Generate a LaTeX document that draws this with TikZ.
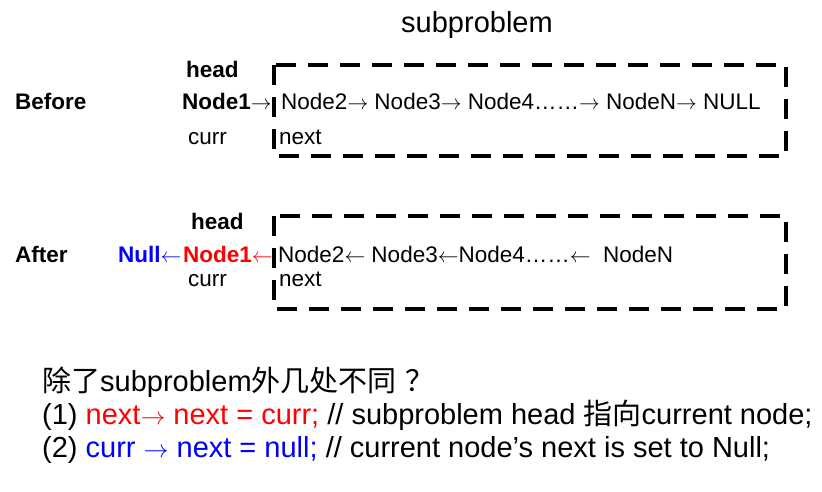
\documentclass[tikz,border=0pt]{standalone}
\usepackage{fontspec}
\setmainfont{Liberation Sans}
\newfontfamily\cjk{Noto Sans CJK SC}
\newcommand{\rarrow}{\ensuremath{\rightarrow}}
\newcommand{\larrow}{\ensuremath{\leftarrow}}
\begin{document}
\begin{tikzpicture}[x=1pt, y=-1pt, line join=round,
		txt/.style={anchor=base west, inner sep=0pt, font=\fontsize{22.5}{26}\selectfont},
		bold/.style={txt, font=\fontsize{22.5}{26}\selectfont\bfseries},
		note/.style={anchor=base west, inner sep=0pt, font=\fontsize{29}{33}\selectfont},
		subbox/.style={draw, line width=4pt, dash pattern=on 20pt off 12pt}]
	\useasboundingbox (0,0) rectangle (822,491);
	
	\node[note, anchor=base] (title) at (477,32) {subproblem};
	
	% before
	\draw[subbox] (274,65) rectangle (786,156);
	\node[bold] (before) at (15,109) {Before};
	\node[bold] (headA) at (186,77) {head};
	\node[bold] (nodeA) at (182,109) {Node1\rarrow};
	\node[txt] (listA) at (281,109) {Node2\rarrow{} Node3\rarrow{} Node4……\rarrow{} NodeN\rarrow{} NULL};
	\node[txt] (currA) at (188,144) {curr};
	\node[txt] (nextA) at (279,144) {next};
	
	% after
	\draw[subbox] (274,216) rectangle (786,309);
	\node[bold] (after) at (15,262) {After};
	\node[bold] (headB) at (191,229) {head};
	\node[bold, text=blue] (nullB) at (118,262) {Null\larrow};
	\node[bold, text=red] (nodeB) at (183,262) {Node1\larrow};
	\node[txt] (listB) at (278,262) {Node2\larrow{} Node3\larrow Node4……\larrow{}\ \ NodeN};
	\node[txt] (currB) at (188,286) {curr};
	\node[txt] (nextB) at (279,286) {next};
	
	% question
	\node[note] (ask) at (42,391) {{\cjk 除了}subproblem{\cjk 外几处不同\hspace{0.3em}？}};
	\node[note] (one) at (42,424) {(1) \textcolor{red}{next\rarrow{} next = curr;} // subproblem head {\cjk 指向}current node;};
	\node[note] (two) at (42,457) {(2) \textcolor{blue}{curr \rarrow{} next = null;} // current node’s next is set to Null;};
\end{tikzpicture}
\end{document}
